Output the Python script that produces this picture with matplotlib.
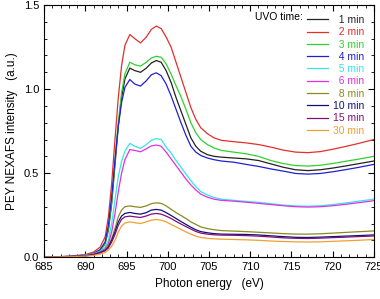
import matplotlib
matplotlib.use("Agg")
import matplotlib.pyplot as plt
from matplotlib.ticker import MultipleLocator

plt.rcParams['font.family'] = ['Liberation Sans', 'DejaVu Sans']

# photon energy grid (eV)
energy = [685, 688, 690, 691, 691.8, 692.4, 692.8, 693.2, 693.6, 694.0, 694.4, 694.8,
          695.4, 696.0, 696.7, 697.4, 698.0, 698.6, 699.2, 699.8, 700.4, 701.0, 701.6,
          702.2, 702.8, 703.4, 704.0, 704.8, 705.6, 706.5, 708.0, 709.5, 711.0, 712.5,
          714.0, 715.5, 717.0, 718.5, 720.0, 721.5, 723.0, 725.0]

min1 = [0.0, 0.004, 0.012, 0.022, 0.04, 0.08, 0.16, 0.32, 0.55, 0.78, 0.95, 1.06,
        1.125, 1.11, 1.10, 1.125, 1.155, 1.17, 1.16, 1.11, 1.04, 0.95, 0.87,
        0.79, 0.71, 0.66, 0.63, 0.61, 0.60, 0.595, 0.59, 0.585, 0.575, 0.555,
        0.535, 0.52, 0.515, 0.52, 0.53, 0.542, 0.555, 0.572]
min2 = [0.0, 0.005, 0.015, 0.03, 0.06, 0.12, 0.24, 0.44, 0.70, 0.95, 1.14, 1.26,
        1.325, 1.30, 1.275, 1.31, 1.355, 1.375, 1.36, 1.31, 1.25, 1.16, 1.07,
        0.98, 0.89, 0.82, 0.77, 0.735, 0.71, 0.695, 0.687, 0.68, 0.67, 0.655,
        0.637, 0.625, 0.622, 0.628, 0.642, 0.658, 0.675, 0.70]
min3 = [0.0, 0.004, 0.012, 0.022, 0.04, 0.08, 0.17, 0.33, 0.57, 0.80, 0.98, 1.09,
        1.16, 1.145, 1.137, 1.16, 1.185, 1.195, 1.19, 1.15, 1.09, 1.02, 0.955,
        0.88, 0.80, 0.74, 0.70, 0.67, 0.65, 0.635, 0.625, 0.615, 0.60, 0.575,
        0.557, 0.545, 0.542, 0.547, 0.557, 0.57, 0.582, 0.60]
min4 = [0.0, 0.004, 0.012, 0.022, 0.045, 0.09, 0.19, 0.36, 0.58, 0.78, 0.92, 1.01,
        1.057, 1.03, 1.018, 1.05, 1.085, 1.097, 1.08, 1.03, 0.96, 0.88, 0.80,
        0.725, 0.66, 0.625, 0.605, 0.59, 0.58, 0.572, 0.565, 0.552, 0.54, 0.525,
        0.512, 0.498, 0.494, 0.498, 0.508, 0.52, 0.533, 0.552]
min5 = [0.0, 0.004, 0.012, 0.02, 0.035, 0.06, 0.10, 0.20, 0.34, 0.48, 0.57, 0.63,
        0.677, 0.66, 0.647, 0.67, 0.695, 0.706, 0.70, 0.655, 0.62, 0.575, 0.535,
        0.495, 0.455, 0.42, 0.39, 0.37, 0.355, 0.345, 0.338, 0.332, 0.326, 0.318,
        0.31, 0.305, 0.303, 0.306, 0.313, 0.322, 0.332, 0.345]
min6 = [0.0, 0.004, 0.01, 0.018, 0.03, 0.05, 0.08, 0.15, 0.26, 0.39, 0.50, 0.58,
        0.64, 0.635, 0.627, 0.645, 0.662, 0.667, 0.66, 0.625, 0.585, 0.545, 0.505,
        0.465, 0.43, 0.40, 0.375, 0.357, 0.345, 0.338, 0.333, 0.327, 0.32, 0.313,
        0.306, 0.30, 0.298, 0.30, 0.306, 0.314, 0.323, 0.336]
min8 = [0.0, 0.003, 0.008, 0.015, 0.03, 0.045, 0.07, 0.11, 0.17, 0.24, 0.28, 0.30,
        0.305, 0.30, 0.296, 0.305, 0.318, 0.323, 0.32, 0.305, 0.285, 0.265, 0.248,
        0.23, 0.21, 0.195, 0.18, 0.17, 0.163, 0.158, 0.155, 0.152, 0.148, 0.144,
        0.14, 0.137, 0.137, 0.139, 0.143, 0.147, 0.151, 0.156]
min10 = [0.0, 0.003, 0.008, 0.015, 0.028, 0.04, 0.06, 0.10, 0.15, 0.21, 0.245, 0.26,
         0.266, 0.26, 0.256, 0.265, 0.28, 0.284, 0.28, 0.265, 0.248, 0.23, 0.212,
         0.195, 0.178, 0.163, 0.152, 0.145, 0.14, 0.137, 0.136, 0.135, 0.132, 0.127,
         0.122, 0.118, 0.117, 0.119, 0.122, 0.125, 0.128, 0.132]
min15 = [0.0, 0.003, 0.008, 0.014, 0.025, 0.038, 0.055, 0.09, 0.135, 0.19, 0.225, 0.24,
         0.244, 0.24, 0.236, 0.245, 0.256, 0.26, 0.256, 0.244, 0.23, 0.213, 0.197,
         0.182, 0.167, 0.153, 0.143, 0.137, 0.133, 0.131, 0.13, 0.128, 0.125, 0.12,
         0.115, 0.112, 0.111, 0.113, 0.116, 0.119, 0.122, 0.126]
min30 = [0.0, 0.002, 0.006, 0.01, 0.018, 0.028, 0.042, 0.065, 0.10, 0.15, 0.185, 0.203,
         0.21, 0.205, 0.20, 0.21, 0.22, 0.224, 0.22, 0.21, 0.195, 0.18, 0.165,
         0.15, 0.137, 0.125, 0.117, 0.112, 0.109, 0.107, 0.105, 0.103, 0.1, 0.096,
         0.093, 0.091, 0.09, 0.091, 0.094, 0.097, 0.1, 0.105]

series = [min1, min2, min3, min4, min5, min6, min8, min10, min15, min30]
labels = ['1 min', '2 min', '3 min', '4 min', '5 min', '6 min', '8 min', '10 min', '15 min', '30 min']
colors = ['#222222', '#e0302c', '#30d030', '#2020d0', '#30e8e8', '#e030e0',
          '#8a8a20', '#10107a', '#80107a', '#f0a030']

fig = plt.figure(figsize=(3.8, 2.99), dpi=100)
ax = fig.add_axes([0.116, 0.140, 0.868, 0.843])

for y, lab, c in zip(series, labels, colors):
    # pad one-digit labels so the text lines up on the right
    ax.plot(energy, y, color=c, lw=0.9, label=lab if len(lab) == 6 else '  ' + lab)

ax.set_xlim(685, 725)
ax.set_ylim(0, 1.5)
ax.xaxis.set_major_locator(MultipleLocator(5))
ax.xaxis.set_minor_locator(MultipleLocator(1))
ax.yaxis.set_major_locator(MultipleLocator(0.5))
ax.yaxis.set_minor_locator(MultipleLocator(0.1))
ax.yaxis.set_major_formatter(plt.FormatStrFormatter('%.1f'))
ax.tick_params(which='both', direction='in', top=True, right=True, labelsize=8)
ax.tick_params(which='major', length=4)
ax.tick_params(which='minor', length=2)
ax.set_xlabel('Photon energy   (eV)', fontsize=8.5)
ax.set_ylabel('PEY NEXAFS intensity   (a.u.)', fontsize=8.5)

leg = ax.legend(loc='upper right', frameon=False, fontsize=7.5, labelcolor='linecolor',
                handlelength=2.0, handletextpad=0.5, labelspacing=0.22,
                borderaxespad=0.55)
ax.text(0.64, 0.952, 'UVO time:', transform=ax.transAxes, fontsize=7.5,
        ha='left', va='center')

fig.savefig('out.png', dpi=100)
